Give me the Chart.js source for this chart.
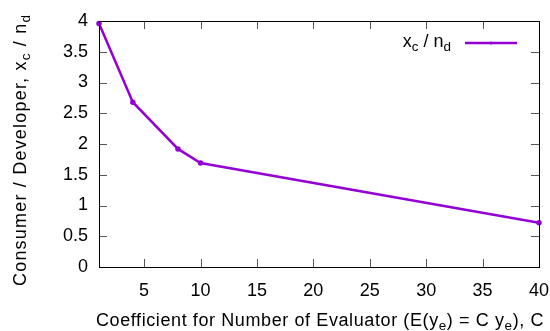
<!DOCTYPE html>
<html lang="en">
<head>
    <meta charset="UTF-8">
    <title>Consumer / Developer</title>
    <script src="https://cdn.jsdelivr.net/npm/chart.js"></script>
    <style>
        html, body { margin: 0; padding: 0; background: #fff; }
        #wrap { width: 550px; height: 331px; }
    </style>
</head>
<body>
    <div id="wrap"><canvas id="myChart"></canvas></div>

<script>
    // values
    const xValues = [1, 4, 8, 10, 40]
    const ratioValues = [3.96, 2.68, 1.92, 1.69, 0.72]
    const xTicks = [5, 10, 15, 20, 25, 30, 35, 40]
    const yTicks = [0, 0.5, 1, 1.5, 2, 2.5, 3, 3.5, 4]

    const FONT = "'Liberation Sans', Arial, sans-serif"
    const LINE = '#9400d3'

    // text with subscripts: parts = [[text, isSub], ...]
    function richWidth(ctx, parts, size, spacing) {
        let w = 0
        ctx.letterSpacing = (spacing || 0) + 'px'
        parts.forEach(p => {
            ctx.font = (p[1] ? size * 0.75 : size) + 'px ' + FONT
            w += ctx.measureText(p[0]).width
        })
        return w
    }
    function drawRich(ctx, parts, x, y, size, spacing) {
        ctx.textBaseline = 'alphabetic'
        ctx.textAlign = 'left'
        ctx.letterSpacing = (spacing || 0) + 'px'
        parts.forEach(p => {
            ctx.font = (p[1] ? size * 0.75 : size) + 'px ' + FONT
            ctx.fillText(p[0], x, p[1] ? y + size * 0.2 : y)
            x += ctx.measureText(p[0]).width
        })
        ctx.letterSpacing = '0px'
    }

    const yTitle = [['Consumer / Developer, x', false], ['c', true], [' / n', false], ['d', true]]
    const xTitle = [['Coefficient for Number of Evaluator (E(y', false], ['e', true], [') = C y', false], ['e', true], ['), C', false]]
    const legendText = [['x', false], ['c', true], [' / n', false], ['d', true]]

    const gnuplotFrame = {
        id: 'gnuplotFrame',
        afterDraw(chart) {
            const ctx = chart.ctx
            const a = chart.chartArea
            const xs = chart.scales.x
            const ys = chart.scales.y
            ctx.save()

            // inward ticks on all four sides
            ctx.strokeStyle = '#555'
            ctx.lineWidth = 1
            ctx.beginPath()
            xTicks.forEach(v => {
                const px = Math.round(xs.getPixelForValue(v)) + 0.5
                ctx.moveTo(px, a.bottom); ctx.lineTo(px, a.bottom - 8)
                ctx.moveTo(px, a.top); ctx.lineTo(px, a.top + 8)
            })
            yTicks.forEach(v => {
                const py = Math.round(ys.getPixelForValue(v)) + 0.5
                ctx.moveTo(a.left, py); ctx.lineTo(a.left + 8, py)
                ctx.moveTo(a.right, py); ctx.lineTo(a.right - 8, py)
            })
            ctx.stroke()

            // frame
            ctx.strokeStyle = '#000'
            ctx.strokeRect(Math.round(a.left) + 0.5, Math.round(a.top) + 0.5,
                Math.round(a.right - a.left), Math.round(a.bottom - a.top))

            ctx.fillStyle = '#000'

            // legend
            const lw = richWidth(ctx, legendText, 18)
            drawRich(ctx, legendText, 451 - lw, 47, 18)
            ctx.strokeStyle = LINE
            ctx.lineWidth = 2.5
            ctx.beginPath()
            ctx.moveTo(465, 43); ctx.lineTo(517, 43)
            ctx.stroke()
            ctx.fillStyle = LINE
            ctx.beginPath()
            ctx.arc(491, 43, 1.5, 0, Math.PI * 2)
            ctx.fill()

            // axis titles
            ctx.fillStyle = '#000'
            const xw = richWidth(ctx, xTitle, 18, 0.6)
            drawRich(ctx, xTitle, 320 - xw / 2, 326, 18, 0.6)

            ctx.translate(26, 286)
            ctx.rotate(-Math.PI / 2)
            drawRich(ctx, yTitle, 0, 0, 18, 1.2)
            ctx.restore()
        }
    }

    const ctx = document.getElementById('myChart')
    new Chart(ctx, {
        type: 'line',
        data: {
            datasets: [{
                data: xValues.map((x, i) => ({ x: x, y: ratioValues[i] })),
                borderColor: LINE,
                backgroundColor: LINE,
                borderWidth: 2.5,
                pointRadius: 1.5,
                pointHoverRadius: 1.5,
                tension: 0,
                fill: false,
                clip: false
            }]
        },
        options: {
            responsive: true,
            maintainAspectRatio: false,
            animation: false,
            events: [],
            layout: { padding: { top: 21, right: 11, left: 0, bottom: 0 } },
            plugins: {
                legend: { display: false },
                tooltip: { enabled: false }
            },
            scales: {
                x: {
                    type: 'linear',
                    min: 1,
                    max: 40,
                    grid: { display: false, drawTicks: false },
                    border: { display: false },
                    afterBuildTicks: s => { s.ticks = xTicks.map(v => ({ value: v })) },
                    afterFit: s => { s.height = 64; s.paddingLeft = 0; s.paddingRight = 0 },
                    ticks: {
                        padding: 13,
                        maxRotation: 0,
                        autoSkip: false,
                        color: '#000',
                        font: { family: FONT, size: 18 },
                        callback: v => String(v)
                    }
                },
                y: {
                    min: 0,
                    max: 4,
                    grid: { display: false, drawTicks: false },
                    border: { display: false },
                    afterBuildTicks: s => { s.ticks = yTicks.map(v => ({ value: v })) },
                    afterFit: s => { s.width = 99; s.paddingTop = 0; s.paddingBottom = 0 },
                    ticks: {
                        padding: 11,
                        color: '#000',
                        font: { family: FONT, size: 18 },
                        callback: v => String(v)
                    }
                }
            }
        },
        plugins: [gnuplotFrame]
    })
</script>
</body>
</html>
